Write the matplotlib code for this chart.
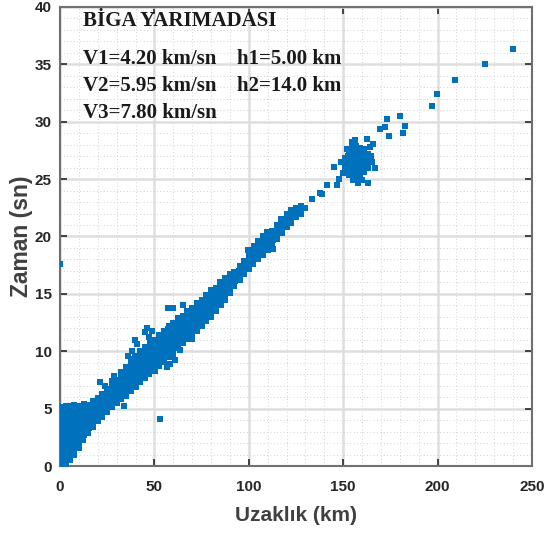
import matplotlib
matplotlib.use("Agg")
import matplotlib.pyplot as plt
from matplotlib.ticker import MultipleLocator

# ---------------- data ----------------
# dense band, near the origin (km, s)
a_dist = [0.2,0.1,0.3,0.2,0.1,0.3,0.2,0.1,0.3,0.2,
          1.6,1.4,1.5,1.7,1.3,1.5,1.6,1.4,1.5,1.7,1.3,1.6,1.4,1.5,
          3.0,3.2,2.9,3.1,3.0,2.8,3.2,3.0,3.1,2.9,3.0,3.2,2.8,3.1,
          5.1,4.9,5.2,5.0,4.8,5.1,5.0,5.2,4.9,5.1,5.0,4.8,5.2,
          7.4,7.6,7.5,7.3,7.7,7.5,7.4,7.6,7.5,7.3,7.6,7.5,
          10.1,9.9,10.0,10.2,9.8,10.1,10.0,9.9,10.2,10.0,
          12.4,12.6,12.5,12.3,12.7,12.5,12.4,12.6,12.5,
          15.0,15.2,14.9,15.1,15.0,14.8,15.1]
a_time = [0.5,0.9,1.3,1.7,2.1,2.5,2.9,3.3,3.7,4.0,
          0.1,0.5,0.9,1.3,1.7,2.1,2.5,2.9,3.3,3.7,4.1,4.5,4.9,5.1,
          0.0,0.4,0.8,1.2,1.6,2.0,2.4,2.8,3.2,3.6,4.0,4.4,4.8,5.2,
          0.5,0.9,1.3,1.7,2.1,2.5,2.9,3.3,3.7,4.1,4.5,4.9,5.2,
          1.0,1.4,1.8,2.2,2.6,3.0,3.4,3.8,4.2,4.6,5.0,5.3,
          1.6,2.0,2.4,2.8,3.2,3.6,4.0,4.4,4.8,5.2,
          2.3,2.7,3.1,3.5,3.9,4.3,4.7,5.1,5.4,
          2.9,3.3,3.7,4.1,4.5,4.9,5.3]

# dense band, 17-40 km
b_dist = [17.4,17.6,17.5,17.3,17.7,17.5,17.4,
          20.1,19.9,20.0,20.2,19.8,20.0,
          22.4,22.6,22.5,22.3,22.7,22.5,
          25.1,24.9,25.0,25.2,24.8,25.0,
          27.4,27.6,27.5,27.3,27.7,27.5,
          30.1,29.9,30.0,30.2,29.8,30.0,
          32.4,32.6,32.5,32.3,32.7,32.5,32.4,
          35.1,34.9,35.0,35.2,34.8,35.0,35.1,
          37.4,37.6,37.5,37.3,37.7,37.5,37.4,37.6,
          40.1,39.9,40.0,40.2,39.8,40.0,40.1,39.9]
b_time = [3.4,3.8,4.2,4.6,5.0,5.4,5.7,
          3.9,4.3,4.7,5.1,5.5,5.9,
          4.3,4.7,5.1,5.5,5.9,6.3,
          4.7,5.1,5.5,5.9,6.3,6.7,
          5.1,5.5,5.9,6.3,6.7,7.1,
          5.5,5.9,6.3,6.7,7.1,7.5,
          5.8,6.2,6.6,7.0,7.4,7.8,8.2,
          6.1,6.5,6.9,7.3,7.7,8.1,8.6,
          6.5,6.9,7.3,7.7,8.1,8.5,8.9,9.3,
          6.9,7.3,7.7,8.1,8.5,8.9,9.3,9.6]

# dense band, 42-80 km
c_dist = [42.4,42.6,42.5,42.3,42.7,42.5,42.4,42.6,
          45.1,44.9,45.0,45.2,44.8,45.0,45.1,44.9,
          47.4,47.6,47.5,47.3,47.7,47.5,47.4,47.6,
          50.1,49.9,50.0,50.2,49.8,50.0,50.1,49.9,
          52.4,52.6,52.5,52.3,52.7,52.5,52.4,52.6,
          55.1,54.9,55.0,55.2,54.8,55.0,55.1,54.9,
          57.4,57.6,57.5,57.3,57.7,57.5,57.4,57.6,
          60.1,59.9,60.0,60.2,59.8,60.0,60.1,59.9,
          62.4,62.6,62.5,62.3,62.7,62.5,62.4,62.6,
          65.1,64.9,65.0,65.2,64.8,65.0,65.1,
          67.4,67.6,67.5,67.3,67.7,67.5,67.4,
          70.1,69.9,70.0,70.2,69.8,70.0,70.1,
          72.4,72.6,72.5,72.3,72.7,72.5,72.4,
          75.1,74.9,75.0,75.2,74.8,75.0,75.1,
          77.4,77.6,77.5,77.3,77.7,77.5,77.4,
          80.1,79.9,80.0,80.2,79.8,80.0,80.1]
c_time = [7.3,7.7,8.1,8.5,8.9,9.3,9.7,10.0,
          7.7,8.1,8.5,8.9,9.3,9.7,10.1,10.4,
          8.0,8.4,8.8,9.2,9.6,10.0,10.4,10.7,
          8.3,8.7,9.1,9.5,9.9,10.3,10.7,11.0,
          8.7,9.1,9.5,9.9,10.3,10.7,11.1,11.4,
          9.1,9.5,9.9,10.3,10.7,11.1,11.5,11.8,
          9.5,9.9,10.3,10.7,11.1,11.5,11.9,12.2,
          9.9,10.3,10.7,11.1,11.5,11.9,12.3,12.5,
          10.3,10.7,11.1,11.5,11.9,12.3,12.7,12.9,
          10.7,11.1,11.5,11.9,12.3,12.7,13.1,
          11.1,11.5,11.9,12.3,12.7,13.1,13.5,
          11.4,11.8,12.2,12.6,13.0,13.4,13.8,
          11.8,12.2,12.6,13.0,13.4,13.8,14.2,
          12.2,12.6,13.0,13.4,13.8,14.2,14.5,
          12.6,13.0,13.4,13.8,14.2,14.6,14.9,
          13.0,13.4,13.8,14.2,14.6,15.0,15.3]

# dense band, 82-130 km
d_dist = [82.4,82.6,82.5,82.3,82.7,82.5,
          85.1,84.9,85.0,85.2,84.8,85.0,
          87.4,87.6,87.5,87.3,87.7,87.5,
          90.1,89.9,90.0,90.2,89.8,
          92.4,92.6,92.5,92.3,
          95.1,94.9,95.0,95.2,
          97.4,97.6,97.5,97.3,
          100.1,99.9,100.0,100.2,99.8,
          102.4,102.6,102.5,102.3,102.7,
          105.1,104.9,105.0,105.2,104.8,
          107.4,107.6,107.5,107.3,107.7,
          110.1,109.9,110.0,110.2,109.8,
          112.4,112.6,112.5,112.3,
          115.1,114.9,115.0,115.2,
          117.4,117.6,117.5,117.3,
          120.1,119.9,120.0,120.2,
          122.4,122.6,122.5,122.3,
          125.1,124.9,125.0,
          127.4,127.6,127.5,
          130.0]
d_time = [13.5,13.9,14.3,14.7,15.1,15.5,
          14.0,14.4,14.8,15.2,15.6,16.0,
          14.5,14.9,15.3,15.7,16.1,16.4,
          15.1,15.5,15.9,16.3,16.7,
          15.7,16.1,16.5,16.9,
          16.2,16.6,17.0,17.4,
          16.7,17.1,17.5,17.9,
          17.2,17.6,18.0,18.4,18.8,
          17.6,18.0,18.4,18.8,19.2,
          18.0,18.4,18.8,19.2,19.6,
          18.4,18.8,19.2,19.6,20.0,
          18.8,19.2,19.6,20.0,20.4,
          19.3,19.7,20.1,20.5,
          19.8,20.2,20.6,21.0,
          20.3,20.7,21.1,21.5,
          20.8,21.2,21.6,22.0,
          21.2,21.6,22.0,22.3,
          21.7,22.1,22.5,
          22.0,22.4,22.7,
          22.5]

# isolated points and lumps along the band
out_dist = [0.0, 21.4, 24.0, 27.6, 28.5, 33.8, 36.0, 38.0, 39.6, 41.0, 45.0,
            46.0, 47.0, 48.6, 53.2, 56.5, 58.0, 60.0, 61.0, 63.4, 57.0, 60.0,
            65.0, 69.8, 92.0, 113.0, 133.4, 137.8, 138.6, 141.4, 146.6, 148.0,
            144.9]
out_time = [17.6, 7.3, 7.0, 7.4, 7.8, 5.2, 9.6, 10.0, 11.0, 10.6, 11.7,
            12.0, 11.2, 11.8, 4.1, 8.6, 8.9, 9.5, 9.2, 10.1, 13.8, 13.8,
            14.0, 11.1, 16.0, 18.9, 23.3, 23.8, 23.7, 24.5, 24.5, 25.0,
            26.1]

# dense cluster near 157 km
clu_dist = [151.1,150.9,151.0,
            153.1,152.9,153.0,153.2,152.8,153.0,
            155.1,154.9,155.0,155.2,154.8,155.0,155.1,154.9,
            157.1,156.9,157.0,157.2,156.8,157.0,157.1,156.9,
            159.1,158.9,159.0,159.2,158.8,159.0,159.1,
            161.1,160.9,161.0,161.2,160.8,161.0,
            163.1,162.9,163.0,163.2,
            165.0,164.8]
clu_time = [26.0,26.4,26.8,
            25.4,25.8,26.2,26.6,27.0,27.4,
            25.2,25.6,26.0,26.4,26.8,27.2,27.6,28.0,
            25.1,25.5,25.9,26.3,26.7,27.1,27.5,27.9,
            25.3,25.7,26.1,26.5,26.9,27.3,27.7,
            25.6,26.0,26.4,26.8,27.2,27.6,
            26.0,26.4,26.8,27.2,
            26.5,27.0]

# scattered points around and beyond the cluster
far_dist = [149.0, 150.0, 154.5, 156.5, 162.5, 166.0, 164.0, 163.4, 155.0,
            158.0, 160.0, 167.0, 152.0, 169.5, 172.0, 173.0, 174.0, 180.0,
            182.6, 181.8, 196.8, 199.9, 209.3, 225.1, 240.1]
far_time = [26.5, 25.5, 28.2, 28.4, 28.5, 28.1, 27.8, 24.7, 24.9,
            24.7, 24.9, 26.0, 27.6, 29.4, 29.5, 30.2, 28.8, 30.5,
            29.6, 29.0, 31.4, 32.4, 33.6, 35.0, 36.3]

x_ticks = [0, 50, 100, 150, 200, 250]
y_ticks = [0, 5, 10, 15, 20, 25, 30, 35, 40]

title_text = "BİGA YARIMADASI"
left_lines = ["V1=4.20 km/sn", "V2=5.95 km/sn", "V3=7.80 km/sn"]
right_lines = ["h1=5.00 km", "h2=14.0 km"]

# ---------------- figure ----------------
fig = plt.figure(figsize=(5.44, 5.38), dpi=100)
ax = fig.add_axes([60/544, 72/538, 472/544, 459/538])

blue = "#0072BD"
for xs, ys in [(a_dist, a_time), (b_dist, b_time), (c_dist, c_time),
               (d_dist, d_time), (out_dist, out_time),
               (clu_dist, clu_time), (far_dist, far_time)]:
    ax.scatter(xs, ys, s=14, marker="s", color=blue, linewidths=0, zorder=3)

ax.set_xlim(0, 250)
ax.set_ylim(0, 40)
ax.set_xticks(x_ticks)
ax.set_yticks(y_ticks)
ax.xaxis.set_minor_locator(MultipleLocator(10))
ax.yaxis.set_minor_locator(MultipleLocator(1))
ax.grid(which="major", color="#dedede", linewidth=1.8, linestyle="-", zorder=0)
ax.grid(which="minor", color="#c4c4c4", linewidth=0.6, linestyle=(0, (1, 3)), zorder=0)
ax.set_axisbelow(True)

ax.tick_params(which="major", direction="in", length=5, width=1.2,
               top=True, right=True, colors="#262626", labelsize=11)
ax.tick_params(axis="x", which="major", pad=10)
ax.tick_params(axis="y", which="major", pad=6)
ax.tick_params(which="minor", length=0, top=True, right=True)
for lab in ax.get_xticklabels() + ax.get_yticklabels():
    lab.set_fontweight("bold")
    lab.set_family("Liberation Sans")
    lab.set_color("#262626")

for sp in ax.spines.values():
    sp.set_color("#707070")
    sp.set_linewidth(1.5)

ax.set_xlabel("Uzaklık (km)", fontsize=15, fontweight="bold", color="#404040",
              family="Liberation Sans", labelpad=9)
ax.set_ylabel("Zaman (sn)", fontsize=16.5, fontweight="bold", color="#404040",
              family="Liberation Sans", labelpad=1)

tfont = dict(family="Liberation Serif", fontweight="bold", fontsize=15,
             color="#1a1a1a", va="center", ha="left", zorder=5)
ax.text(12, 38.8, title_text, **tfont)
for i, s in enumerate(left_lines):
    ax.text(12, 35.5 - 2.35 * i, s, **tfont)
for i, s in enumerate(right_lines):
    ax.text(94, 35.5 - 2.35 * i, s, **tfont)

fig.savefig("out.png", dpi=100)
